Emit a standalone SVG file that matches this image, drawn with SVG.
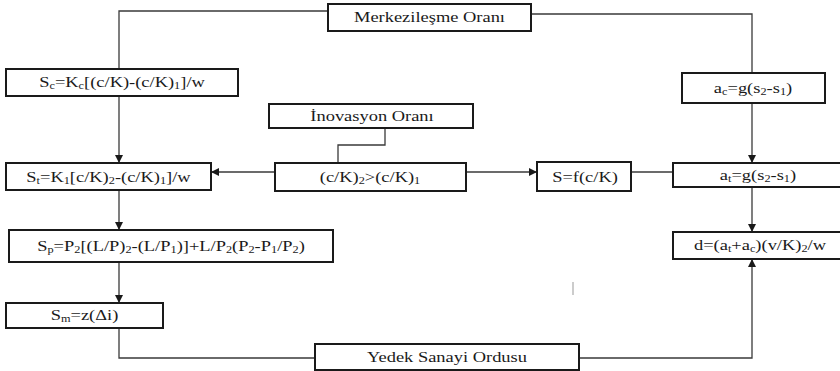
<svg xmlns="http://www.w3.org/2000/svg" width="840" height="371" viewBox="0 0 840 371" font-family="'Liberation Serif', 'Times New Roman', 'DejaVu Serif', serif">
<defs>
<marker id="ah" markerUnits="userSpaceOnUse" markerWidth="9" markerHeight="8" refX="8" refY="4" orient="auto">
<path d="M0,0 L8,4 L0,8 Z" fill="#1a1a1a"/>
</marker>
<style>
.box{fill:#fff;stroke:#1a1a1a;stroke-width:2}
.ln{fill:none;stroke:#3a3a3a;stroke-width:1.3}
.ar{marker-end:url(#ah)}
.t{font-family:'Liberation Serif','Times New Roman',serif;font-size:15px;fill:#1a1a1a;text-anchor:middle}
.sb{font-size:10px}
</style>
</defs>
<rect width="840" height="371" fill="#fff"/>
<g id="connectors">
<polyline class="ln" points="328,11 119,11 119,69"/>
<polyline class="ln" points="531,14 752,14 752,73"/>
<polyline class="ln ar" points="119,96 119,163"/>
<polyline class="ln ar" points="752,103 752,163"/>
<polyline class="ln" points="385,128 385,145 338,145 338,163"/>
<polyline class="ln ar" points="275,172 211,172"/>
<polyline class="ln ar" points="466,172 537,172"/>
<polyline class="ln" points="631,172 673,172"/>
<polyline class="ln ar" points="752,187 752,232"/>
<polyline class="ln ar" points="119,190 119,230"/>
<polyline class="ln ar" points="119,262 119,303"/>
<polyline class="ln" points="119,328 119,358 315,358"/>
<polyline class="ln ar" points="579,358 752,358 752,259"/>
<line x1="573" y1="282" x2="573" y2="295" stroke="#999" stroke-width="1"/>
</g>
<g id="merkezilesme">
<rect class="box" x="328" y="4" width="203" height="27"/>
<text class="t" transform="translate(429.5,22) scale(1.23,1)">Merkezileşme Oranı</text>
</g>
<g id="sc">
<rect class="box" x="6" y="69" width="232" height="27"/>
<text class="t" transform="translate(122,87) scale(1.23,1)">S<tspan class="sb" dy="1.5">c</tspan><tspan dy="-1.5">=K</tspan><tspan class="sb" dy="1.5">c</tspan><tspan dy="-1.5">[(c/K)-(c/K)</tspan><tspan class="sb" dy="1.5">1</tspan><tspan dy="-1.5">]/w</tspan></text>
</g>
<g id="inovasyon">
<rect class="box" x="269" y="104" width="204" height="24"/>
<text class="t" transform="translate(372,121) scale(1.23,1)">İnovasyon Oranı</text>
</g>
<g id="ac">
<rect class="box" x="682" y="73" width="143" height="30"/>
<text class="t" transform="translate(753,93) scale(1.23,1)">a<tspan class="sb" dy="1.5">c</tspan><tspan dy="-1.5">=g(s</tspan><tspan class="sb" dy="1.5">2</tspan><tspan dy="-1.5">-s</tspan><tspan class="sb" dy="1.5">1</tspan><tspan dy="-1.5">)</tspan></text>
</g>
<g id="st">
<rect class="box" x="6" y="163" width="205" height="27"/>
<text class="t" transform="translate(108.5,182) scale(1.23,1)">S<tspan class="sb" dy="1.5">t</tspan><tspan dy="-1.5">=K</tspan><tspan class="sb" dy="1.5">1</tspan><tspan dy="-1.5">[c/K)</tspan><tspan class="sb" dy="1.5">2</tspan><tspan dy="-1.5">-(c/K)</tspan><tspan class="sb" dy="1.5">1</tspan><tspan dy="-1.5">]/w</tspan></text>
</g>
<g id="ck">
<rect class="box" x="275" y="163" width="191" height="28"/>
<text class="t" transform="translate(370,182) scale(1.23,1)">(c/K)<tspan class="sb" dy="1.5">2</tspan><tspan dy="-1.5">&gt;(c/K)</tspan><tspan class="sb" dy="1.5">1</tspan></text>
</g>
<g id="sf">
<rect class="box" x="537" y="162" width="94" height="29"/>
<text class="t" transform="translate(585,182) scale(1.23,1)">S=f(c/K)</text>
</g>
<g id="at">
<rect class="box" x="673" y="163" width="172" height="24"/>
<text class="t" transform="translate(758,180) scale(1.23,1)">a<tspan class="sb" dy="1.5">t</tspan><tspan dy="-1.5">=g(s</tspan><tspan class="sb" dy="1.5">2</tspan><tspan dy="-1.5">-s</tspan><tspan class="sb" dy="1.5">1</tspan><tspan dy="-1.5">)</tspan></text>
</g>
<g id="sp">
<rect class="box" x="9" y="230" width="324" height="32"/>
<text class="t" transform="translate(171,251) scale(1.23,1)">S<tspan class="sb" dy="1.5">p</tspan><tspan dy="-1.5">=P</tspan><tspan class="sb" dy="1.5">2</tspan><tspan dy="-1.5">[(L/P)</tspan><tspan class="sb" dy="1.5">2</tspan><tspan dy="-1.5">-(L/P</tspan><tspan class="sb" dy="1.5">1</tspan><tspan dy="-1.5">)]+L/P</tspan><tspan class="sb" dy="1.5">2</tspan><tspan dy="-1.5">(P</tspan><tspan class="sb" dy="1.5">2</tspan><tspan dy="-1.5">-P</tspan><tspan class="sb" dy="1.5">1</tspan><tspan dy="-1.5">/P</tspan><tspan class="sb" dy="1.5">2</tspan><tspan dy="-1.5">)</tspan></text>
</g>
<g id="d">
<rect class="box" x="673" y="232" width="172" height="27"/>
<text class="t" transform="translate(760,250) scale(1.23,1)">d=(a<tspan class="sb" dy="1.5">t</tspan><tspan dy="-1.5">+a</tspan><tspan class="sb" dy="1.5">c</tspan><tspan dy="-1.5">)(v/K)</tspan><tspan class="sb" dy="1.5">2</tspan><tspan dy="-1.5">/w</tspan></text>
</g>
<g id="sm">
<rect class="box" x="6" y="303" width="157" height="25"/>
<text class="t" transform="translate(84.5,320) scale(1.23,1)">S<tspan class="sb" dy="1.5">m</tspan><tspan dy="-1.5">=z(Δi)</tspan></text>
</g>
<g id="yedek">
<rect class="box" x="315" y="344" width="264" height="26"/>
<text class="t" transform="translate(447,362) scale(1.23,1)">Yedek Sanayi Ordusu</text>
</g>
</svg>
